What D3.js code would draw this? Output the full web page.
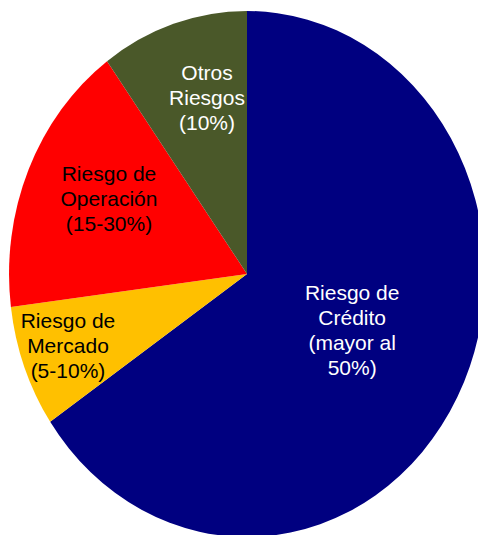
<!DOCTYPE html>
<meta charset="utf-8">
<script src="https://d3js.org/d3.v7.min.js"></script>
<style>
  body { margin: 0; background: #fff; }
  svg text {
    font-family: Arial, "Liberation Sans", sans-serif;
    font-size: 21px;
  }
</style>
<div id="my_dataviz"></div>
<script>

  // data
  var categories = ["Crédito", "Mercado", "Operación", "Otros"];
  var shares = [65.5, 7.5, 17, 10];
  var labelLines = [
    ["Riesgo de", "Crédito", "(mayor al", "50%)"],
    ["Riesgo de", "Mercado", "(5-10%)"],
    ["Riesgo de", "Operación", "(15-30%)"],
    ["Otros", "Riesgos", "(10%)"]
  ];
  var colors = ["#000080", "#ffc000", "#ff0000", "#4a5829"];
  var textColors = ["#fff", "#000", "#000", "#fff"];

  var width = 478, height = 535;
  var cx = 247, cy = 274, rx = 238, ry = 263;

  // where each label sits: fraction of radius and a small turn off the mid angle (deg)
  var labelPos = [[0.49, -2.3], [0.80, 0.8], [0.647, 2.9], [0.69, 3.9]];
  var lineH = 25;

  var svg = d3.select("#my_dataviz")
    .append("svg")
    .attr("width", width)
    .attr("height", height);

  var pie = d3.pie().sort(null).value(function (d) { return d; });
  var arcs = pie(shares);

  // unit circle arc, stretched into the ellipse
  var arc = d3.arc().innerRadius(0).outerRadius(1);

  var g = svg.append("g")
    .attr("transform", "translate(" + cx + "," + cy + ")");

  g.append("g")
    .attr("transform", "scale(" + rx + "," + ry + ")")
    .selectAll("path")
    .data(arcs)
    .enter()
    .append("path")
    .attr("d", arc)
    .attr("fill", function (d, i) { return colors[i]; });

  var labels = g.selectAll(".lbl")
    .data(arcs)
    .enter()
    .append("text")
    .attr("class", "lbl")
    .attr("text-anchor", "middle")
    .attr("fill", function (d, i) { return textColors[i]; })
    .each(function (d, i) {
      var a = (d.startAngle + d.endAngle) / 2 + labelPos[i][1] * Math.PI / 180;
      var r = labelPos[i][0];
      var x = Math.sin(a) * r * rx;
      var y = -Math.cos(a) * r * ry;
      var lines = labelLines[i];
      var y0 = y - (lines.length - 1) / 2 * lineH + 7.4;
      d3.select(this).selectAll("tspan")
        .data(lines)
        .enter()
        .append("tspan")
        .attr("x", x)
        .attr("y", function (t, j) { return y0 + j * lineH; })
        .text(function (t) { return t; });
    });

</script>
